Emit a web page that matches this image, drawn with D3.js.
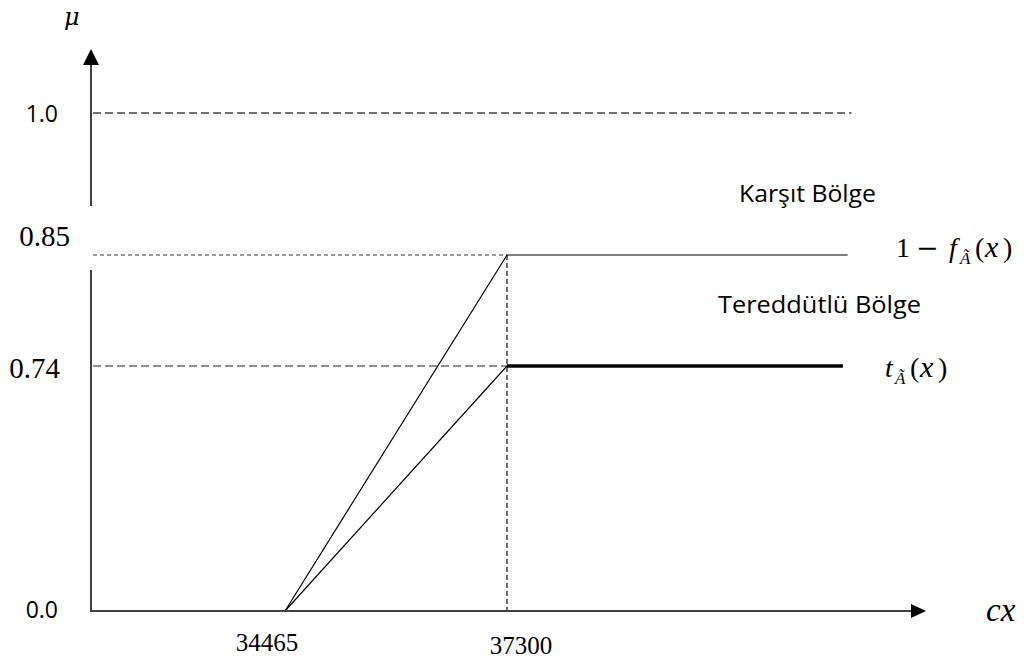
<!DOCTYPE html>
<html><head><meta charset="utf-8">
<script src="https://cdn.jsdelivr.net/npm/d3@7"></script>
<style>body{margin:0;background:#fff} svg{display:block}</style>
</head><body>
<svg id="chart" width="1028" height="661"></svg>
<script>
// ---- data ----
const yTickValues = [0, 0.74, 0.85, 1.0];
const yTickLabels = ["0.0", "0.74", "0.85", "1.0"];
const xTickValues = [34465, 37300];
const xTickLabels = ["34465", "37300"];
const upperCurve = [[34465, 0], [37300, 0.85], [41650, 0.85]];   // 1 − f
const lowerRise  = [[34465, 0], [37300, 0.74]];                   // t (rising part)
const lowerFlat  = [[37300, 0.74], [41590, 0.74]];                // t (flat part)
const fullLine   = [1.0, 41700];      // level, end value
const peakX = 37300;
const regionLabels = ["Karşıt Bölge", "Tereddütlü Bölge"];
const axisTitles = ["μ", "cx"];

// ---- layout ----
const svg = d3.select("#chart");
const ox = 91, oy = 611, xAxisEnd = 926, yAxisTop = 49;
const x = d3.scaleLinear().domain([34465, 37300]).range([285, 507]);
const y = d3.scaleLinear().domain([0, 0.74, 0.85, 1.0]).range([oy, 366, 255, 113]);
const line = d3.line().x(d => x(d[0])).y(d => y(d[1]));

// reference dashed lines
svg.append("line").attr("x1", ox + 2).attr("x2", x(fullLine[1]))
  .attr("y1", y(fullLine[0])).attr("y2", y(fullLine[0]))
  .attr("stroke", "#444").attr("stroke-width", 1.3).attr("stroke-dasharray", "8,4");
svg.append("line").attr("x1", ox + 2).attr("x2", x(peakX))
  .attr("y1", y(0.85)).attr("y2", y(0.85))
  .attr("stroke", "#333").attr("stroke-width", 1.2).attr("stroke-dasharray", "4,3");
svg.append("line").attr("x1", ox + 2).attr("x2", x(peakX))
  .attr("y1", y(0.74)).attr("y2", y(0.74))
  .attr("stroke", "#222").attr("stroke-width", 1.2).attr("stroke-dasharray", "8,4");
svg.append("line").attr("x1", x(peakX)).attr("x2", x(peakX))
  .attr("y1", y(0.85)).attr("y2", y(0))
  .attr("stroke", "#222").attr("stroke-width", 1.3).attr("stroke-dasharray", "5,3");

// curves
svg.append("path").attr("d", line(upperCurve)).attr("fill", "none")
  .attr("stroke", "#000").attr("stroke-width", 1.2);
svg.append("path").attr("d", line(lowerRise)).attr("fill", "none")
  .attr("stroke", "#000").attr("stroke-width", 1.2);
svg.append("path").attr("d", line(lowerFlat)).attr("fill", "none")
  .attr("stroke", "#000").attr("stroke-width", 3.5);

// axes
const ax = svg.append("g").attr("stroke", "#404040").attr("stroke-width", 2);
ax.append("line").attr("x1", ox).attr("x2", ox).attr("y1", yAxisTop + 14).attr("y2", y(0.85) - 49);
ax.append("line").attr("x1", ox).attr("x2", ox).attr("y1", y(0.85) + 15).attr("y2", oy + 1);
ax.append("line").attr("x1", ox - 1).attr("x2", xAxisEnd - 12).attr("y1", oy).attr("y2", oy);
svg.append("path").attr("d", `M${ox},${yAxisTop} L${ox - 8},${yAxisTop + 16} L${ox + 8},${yAxisTop + 16} Z`).attr("fill", "#000");
svg.append("path").attr("d", `M${xAxisEnd},${oy} L${xAxisEnd - 15},${oy - 7} L${xAxisEnd - 15},${oy + 7} Z`).attr("fill", "#000");

// y tick labels
const yLabelStyle = {
  "0.0":  {font: "Open Sans", size: 23, xEnd: 58, dy: 7},
  "1.0":  {font: "Open Sans", size: 23, xEnd: 58, dy: 9},
  "0.85": {font: "Liberation Serif", size: 29, xEnd: 70, dy: -9},
  "0.74": {font: "Liberation Serif", size: 29, xEnd: 60, dy: 12}
};
yTickValues.forEach((v, i) => {
  const s = yLabelStyle[yTickLabels[i]];
  svg.append("text").text(yTickLabels[i])
    .attr("x", s.xEnd).attr("y", y(v) + s.dy)
    .attr("text-anchor", "end").style("font-family", `'${s.font}'`).attr("font-size", s.size).attr("fill", "#000");
});

// x tick labels
const xLabelOffset = [{dx: -18, dy: 40}, {dx: 14, dy: 43}];
xTickValues.forEach((v, i) => {
  svg.append("text").text(xTickLabels[i])
    .attr("x", x(v) + xLabelOffset[i].dx).attr("y", oy + xLabelOffset[i].dy)
    .attr("text-anchor", "middle").style("font-family", "'Liberation Serif'").attr("font-size", 25).attr("fill", "#000");
});

// axis titles
svg.append("text").text(axisTitles[0]).attr("x", 64).attr("y", 25)
  .style("font-family", "'DejaVu Serif'").attr("font-style", "italic").attr("font-size", 24);
svg.append("text").text(axisTitles[1]).attr("x", 986).attr("y", 621)
  .style("font-family", "'Liberation Serif'").attr("font-style", "italic").attr("font-size", 33);

// region labels
svg.append("text").text(regionLabels[0]).attr("x", 739).attr("y", 202)
  .style("font-family", "'Open Sans'").attr("font-size", 24)
  .attr("textLength", 137).attr("lengthAdjust", "spacingAndGlyphs");
svg.append("text").text(regionLabels[1]).attr("x", 718).attr("y", 313)
  .style("font-family", "'Open Sans'").attr("font-size", 24)
  .attr("textLength", 203).attr("lengthAdjust", "spacingAndGlyphs");

// math labels
function mathLabel(parts, base) {
  const t = svg.append("text").attr("fill", "#000");
  parts.forEach(p => {
    t.append("tspan").text(p.s).attr("x", p.x).attr("y", base + (p.sub ? 7 : 0))
      .style("font-family", p.dv ? "'DejaVu Serif'" : "'Liberation Serif'")
      .attr("font-size", p.sub ? 17 : (p.size || 28))
      .attr("font-style", p.it ? "italic" : "normal");
  });
}
mathLabel([
  {s: "1", x: 896}, {s: "−", x: 916, dv: true, size: 27}, {s: "f", x: 949, it: true},
  {s: "Ã", x: 960, it: true, sub: true}, {s: "(", x: 975}, {s: "x", x: 985, it: true, size: 30}, {s: ")", x: 1003}
], 257);
mathLabel([
  {s: "t", x: 885, it: true}, {s: "Ã", x: 895, it: true, sub: true},
  {s: "(", x: 910}, {s: "x", x: 920, it: true, size: 30}, {s: ")", x: 938}
], 377);
</script>
</body></html>
